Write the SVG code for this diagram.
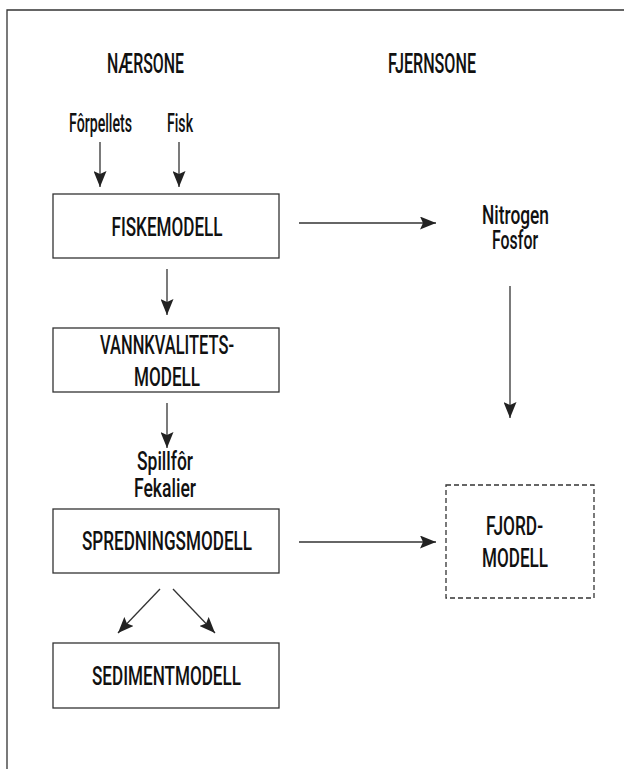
<svg xmlns="http://www.w3.org/2000/svg" width="624" height="769" viewBox="0 0 624 769">
<defs>
<style>
.frame{stroke:#333;stroke-width:1.3;fill:none}
.box{fill:#fff;stroke:#333;stroke-width:1.3}
.dash{fill:#fff;stroke:#333;stroke-width:1.3;stroke-dasharray:5 3}
.t{font-family:Roboto,"Liberation Sans",Arial,sans-serif;font-weight:500;font-size:25.5px;fill:#111;text-anchor:middle}
.h{font-size:28px}
.c line{stroke:#333;stroke-width:1.3;marker-end:url(#ah)}
</style>
<marker id="ah" markerUnits="userSpaceOnUse" markerWidth="17" markerHeight="13" refX="16" refY="6.5" orient="auto" viewBox="0 0 17 13">
<path d="M0,0 L16,6.5 L0,13 L3,6.5 z" fill="#222"/>
</marker>
</defs>
<rect width="624" height="769" fill="#fff"/>
<path class="frame" d="M7,769 L7,10 L624,10"/>

<g id="headings">
<text class="t h" transform="translate(145.5 73) scale(0.75 1)" textLength="102.7" lengthAdjust="spacingAndGlyphs">NÆRSONE</text>
<text class="t h" transform="translate(432 73) scale(0.75 1)" textLength="117.3" lengthAdjust="spacingAndGlyphs">FJERNSONE</text>
</g>

<g id="forpellets"><text class="t" transform="translate(100.5 132) scale(0.75 1)" textLength="84" lengthAdjust="spacingAndGlyphs">Fôrpellets</text></g>
<g id="fisk"><text class="t" transform="translate(180 132) scale(0.75 1)" textLength="34.7" lengthAdjust="spacingAndGlyphs">Fisk</text></g>

<g id="fiskemodell">
<rect class="box" x="53" y="194" width="226" height="64"/>
<text class="t" transform="translate(167 236) scale(0.75 1)" textLength="148" lengthAdjust="spacingAndGlyphs">FISKEMODELL</text>
</g>

<g id="vannkvalitetsmodell">
<rect class="box" x="53" y="328" width="226" height="64"/>
<text class="t" transform="translate(167 354) scale(0.75 1)" textLength="178.7" lengthAdjust="spacingAndGlyphs">VANNKVALITETS-</text>
<text class="t" transform="translate(167 386) scale(0.75 1)" textLength="88" lengthAdjust="spacingAndGlyphs">MODELL</text>
</g>

<g id="spillfor">
<text class="t" transform="translate(165 470) scale(0.75 1)" textLength="74.7" lengthAdjust="spacingAndGlyphs">Spillfôr</text>
<text class="t" transform="translate(165 497) scale(0.75 1)" textLength="82.7" lengthAdjust="spacingAndGlyphs">Fekalier</text>
</g>

<g id="spredningsmodell">
<rect class="box" x="53" y="509" width="226" height="64"/>
<text class="t" transform="translate(167 550) scale(0.75 1)" textLength="226.7" lengthAdjust="spacingAndGlyphs">SPREDNINGSMODELL</text>
</g>

<g id="sedimentmodell">
<rect class="box" x="53" y="643" width="226" height="65"/>
<text class="t" transform="translate(166.5 685) scale(0.75 1)" textLength="198.7" lengthAdjust="spacingAndGlyphs">SEDIMENTMODELL</text>
</g>

<g id="nitrogen">
<text class="t" transform="translate(515.5 224) scale(0.75 1)" textLength="89.3" lengthAdjust="spacingAndGlyphs">Nitrogen</text>
<text class="t" transform="translate(515 249) scale(0.75 1)" textLength="61.3" lengthAdjust="spacingAndGlyphs">Fosfor</text>
</g>

<g id="fjordmodell">
<rect class="dash" x="446" y="485" width="148" height="113"/>
<text class="t" transform="translate(514.5 535) scale(0.75 1)" textLength="76" lengthAdjust="spacingAndGlyphs">FJORD-</text>
<text class="t" transform="translate(515 567) scale(0.75 1)" textLength="88" lengthAdjust="spacingAndGlyphs">MODELL</text>
</g>

<g id="connectors" class="c">
<line x1="100" y1="142" x2="100" y2="187"/>
<line x1="179" y1="142" x2="179" y2="187"/>
<line x1="167" y1="269" x2="167" y2="315"/>
<line x1="167" y1="403" x2="167" y2="448"/>
<line x1="299" y1="223" x2="436" y2="223"/>
<line x1="510" y1="286" x2="510" y2="418"/>
<line x1="299" y1="542" x2="436" y2="542"/>
<line x1="160" y1="589" x2="118" y2="633"/>
<line x1="173" y1="589" x2="215" y2="633"/>
</g>
</svg>
